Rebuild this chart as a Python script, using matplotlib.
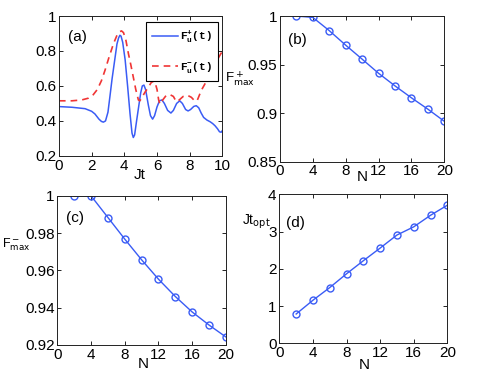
import numpy as np
import matplotlib.pyplot as plt

plt.rcParams['font.family'] = ['Liberation Sans Narrow', 'Liberation Sans', 'DejaVu Sans']
plt.rcParams['mathtext.fontset'] = 'custom'
plt.rcParams['mathtext.rm'] = 'Liberation Sans Narrow'
plt.rcParams['mathtext.tt'] = 'Liberation Mono:bold'

# (a) zeitverlauf
t_plus = [0, 0.8, 1.6, 2.0, 2.2, 2.45, 2.6, 2.72, 2.85, 3.0, 3.12, 3.25, 3.43, 3.55, 3.65, 3.73,
          3.8, 3.9, 4.05, 4.2, 4.35, 4.47, 4.55, 4.63, 4.75, 4.86, 5.0, 5.1, 5.2, 5.3, 5.47,
          5.6, 5.73, 5.85, 6.0, 6.15, 6.3, 6.45, 6.65, 6.85, 7.0, 7.2, 7.39, 7.55, 7.75, 7.9,
          8.05, 8.25, 8.4, 8.55, 8.7, 8.85, 9.05, 9.25, 9.4, 9.55, 9.7, 9.82, 9.92, 10]
f_plus = [0.482, 0.478, 0.47, 0.455, 0.44, 0.41, 0.397, 0.393, 0.40, 0.45, 0.54, 0.64, 0.76,
          0.84, 0.875, 0.89, 0.885, 0.85, 0.75, 0.60, 0.44, 0.33, 0.305, 0.32, 0.40, 0.47,
          0.56, 0.60, 0.605, 0.58, 0.49, 0.43, 0.41, 0.43, 0.48, 0.515, 0.52, 0.50, 0.46,
          0.445, 0.46, 0.50, 0.515, 0.50, 0.465, 0.457, 0.465, 0.483, 0.487, 0.475, 0.445,
          0.42, 0.405, 0.395, 0.385, 0.372, 0.355, 0.338, 0.335, 0.345]
t_minus = [0, 0.8, 1.4, 1.8, 2.1, 2.35, 2.6, 2.82, 3.05, 3.33, 3.55, 3.7, 3.83, 3.95, 4.1,
           4.25, 4.4, 4.55, 4.7, 4.86, 4.95, 5.05, 5.27, 5.45, 5.65, 5.85, 6.0, 6.1, 6.18,
           6.35, 6.57, 6.8, 7.0, 7.18, 7.3, 7.6, 7.85, 8.1, 8.31, 8.45, 8.71, 8.92, 9.2,
           9.5, 9.75, 10]
f_minus = [0.515, 0.515, 0.52, 0.53, 0.55, 0.58, 0.63, 0.69, 0.76, 0.84, 0.89, 0.91, 0.915,
           0.905, 0.86, 0.785, 0.72, 0.65, 0.58, 0.52, 0.515, 0.53, 0.565, 0.59, 0.62, 0.63,
           0.58, 0.52, 0.495, 0.52, 0.547, 0.55, 0.54, 0.51, 0.515, 0.54, 0.547, 0.535,
           0.514, 0.515, 0.575, 0.61, 0.66, 0.71, 0.76, 0.80]

# (b)-(d) ueber N
N = [2, 4, 6, 8, 10, 12, 14, 16, 18, 20]
Fmax_plus = [1.0, 0.9986, 0.985, 0.970, 0.9556, 0.941, 0.928, 0.9157, 0.904, 0.8915]
Fmax_minus = [1.0, 1.0, 0.9884, 0.9768, 0.9657, 0.9553, 0.946, 0.9377, 0.9307, 0.9243]
Jt_opt = [0.79, 1.16, 1.50, 1.87, 2.22, 2.56, 2.91, 3.13, 3.44, 3.71]

blue = '#3a5cf5'
red = '#f03535'

fig = plt.figure(figsize=(4.91, 3.82), dpi=100)
ax_a = fig.add_axes([0.120, 0.592, 0.333, 0.366])
ax_b = fig.add_axes([0.570, 0.577, 0.335, 0.381])
ax_c = fig.add_axes([0.117, 0.097, 0.343, 0.390])
ax_d = fig.add_axes([0.569, 0.101, 0.342, 0.390])

ax_a.plot(t_plus, f_plus, color=blue, lw=1.1, label=r'$\mathtt{F}^{\mathtt{+}}_{\mathtt{u}}\mathtt{(t)}$')
ax_a.plot(t_minus, f_minus, color=red, lw=1.2, ls=(0, (4, 3)), label=r'$\mathtt{F}^{\mathtt{-}}_{\mathtt{u}}\mathtt{(t)}$')
ax_a.set_xlim(0, 10)
ax_a.set_ylim(0.2, 1)
ax_a.set_xticks([0, 2, 4, 6, 8, 10])
ax_a.set_yticks([0.2, 0.4, 0.6, 0.8, 1.0])
ax_a.set_yticklabels(['0.2', '0.4', '0.6', '0.8', '1'])
leg = ax_a.legend(loc='upper right', bbox_to_anchor=(0.973, 0.955), borderaxespad=0, fontsize=8,
                  handlelength=2.3, labelspacing=1.4, borderpad=0.55, handletextpad=0.2,
                  fancybox=False, framealpha=1, edgecolor='black')
leg.get_frame().set_linewidth(0.8)
ax_a.set_xlabel('Jt')
ax_a.xaxis.set_label_coords(0.496, -0.09)

ax_b.plot(N, Fmax_plus, 'o-', color=blue, lw=1.0, ms=5, mfc='none', mew=1.0)
ax_b.set_xlim(0, 20)
ax_b.set_ylim(0.85, 1)
ax_b.set_yticks([0.85, 0.9, 0.95, 1.0])
ax_b.set_yticklabels(['0.85', '0.9', '0.95', '1'])
ax_b.set_xlabel('N')
ax_b.xaxis.set_label_coords(0.50, -0.06)
ax_b.set_ylabel(r'F$^+_{\mathrm{max}}$', rotation=0, ha='center', va='center', fontsize=9.5)
ax_b.yaxis.set_label_coords(-0.245, 0.568)

ax_c.plot(N, Fmax_minus, 'o-', color=blue, lw=1.0, ms=5, mfc='none', mew=1.0)
ax_c.set_xlim(0, 20)
ax_c.set_ylim(0.92, 1)
ax_c.set_yticks([0.92, 0.94, 0.96, 0.98, 1.0])
ax_c.set_yticklabels(['0.92', '0.94', '0.96', '0.98', '1'])
ax_c.set_xlabel('N')
ax_c.xaxis.set_label_coords(0.508, -0.08)
ax_c.set_ylabel(r'F$^-_{\mathrm{max}}$', rotation=0, ha='center', va='center', fontsize=9)
ax_c.yaxis.set_label_coords(-0.245, 0.675)

ax_d.plot(N, Jt_opt, 'o-', color=blue, lw=1.0, ms=5, mfc='none', mew=1.0)
ax_d.set_xlim(0, 20)
ax_d.set_ylim(0, 4)
ax_d.set_yticks([0, 1, 2, 3, 4])
ax_d.set_xlabel('N')
ax_d.xaxis.set_label_coords(0.504, -0.10)
ax_d.set_ylabel(r'Jt$_{\mathrm{opt}}$', rotation=0, ha='center', va='center', fontsize=10)
ax_d.yaxis.set_label_coords(-0.14, 0.814)

for ax in [ax_b, ax_c, ax_d]:
    ax.set_xticks([0, 4, 8, 12, 16, 20])

for ax, lab, px, py in [(ax_a, '(a)', 0.116, 0.85), (ax_b, '(b)', 0.104, 0.835),
                        (ax_c, '(c)', 0.103, 0.85), (ax_d, '(d)', 0.093, 0.805)]:
    ax.text(px, py, lab, transform=ax.transAxes, ha='center', va='center', fontsize=11)
    ax.tick_params(direction='in', top=True, right=True, length=3, width=0.6, labelsize=11, pad=2)
    ax.xaxis.label.set_size(11)
    for s in ax.spines.values():
        s.set_linewidth(0.7)
        s.set_color('#222222')

fig.savefig('out.png', dpi=100)
